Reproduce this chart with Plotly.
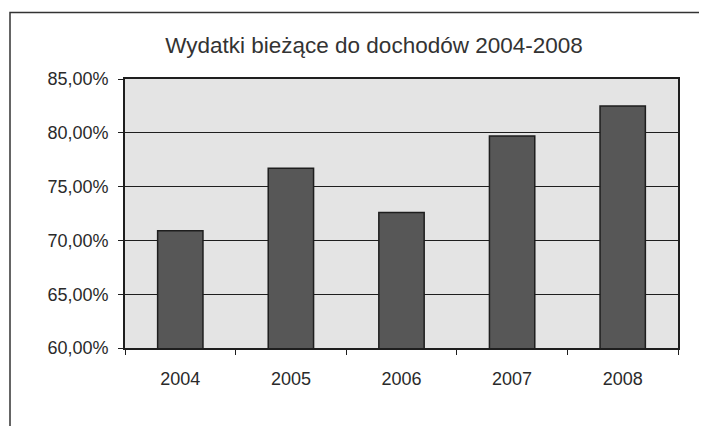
import plotly.graph_objects as go

# data
years = ["2004", "2005", "2006", "2007", "2008"]
ratio = [0.709, 0.767, 0.726, 0.797, 0.825]

# page body has an 8px margin, so the figure is drawn smaller and offset
OFF = 8
W, H = 707 - 2 * OFF, 426 - OFF
L, T = 125 - OFF, 79 - OFF
R = W - (678 - OFF)
B = H - (348 - OFF)
pw, ph = W - L - R, H - T - B


def px(x):
    # reference pixel x -> paper coordinate
    return (x - OFF - L) / pw


def py(y):
    # reference pixel y -> paper coordinate
    return (H - B - (y - OFF)) / ph


fig = go.Figure(
    go.Bar(
        x=years,
        y=ratio,
        marker=dict(color="#575757", line=dict(color="#1e1e1e", width=1.5)),
        showlegend=False,
    )
)

fig.update_layout(
    width=W,
    height=H,
    margin=dict(l=L, r=R, t=T, b=B),
    paper_bgcolor="#ffffff",
    plot_bgcolor="#e4e4e4",
    separators=", ",
    bargap=0.59,
    font=dict(family="Liberation Sans, Arial, sans-serif", size=18, color="#2a2a2a"),
    title=dict(
        text="Wydatki bieżące do dochodów 2004-2008",
        font=dict(size=22.5, color="#333333"),
        x=px(374),
        xref="paper",
        xanchor="center",
        y=1 - (45.5 - OFF) / H,
        yanchor="middle",
    ),
    shapes=[
        # outer chart border (cut off at right and bottom)
        dict(
            type="rect",
            xref="paper",
            yref="paper",
            x0=px(10),
            x1=px(760),
            y0=py(480),
            y1=py(12.5),
            line=dict(color="#333333", width=1.5),
            layer="below",
        )
    ],
)

fig.update_xaxes(
    type="category",
    showline=True,
    linecolor="#1e1e1e",
    linewidth=1.5,
    mirror=True,
    ticks="outside",
    tickson="boundaries",
    ticklen=5,
    tickcolor="#1e1e1e",
    ticklabelstandoff=14,
    showgrid=False,
)
fig.update_yaxes(
    range=[0.60, 0.85],
    dtick=0.05,
    tickformat=".2%",
    showline=True,
    linecolor="#1e1e1e",
    linewidth=1.5,
    mirror=True,
    ticks="outside",
    ticklen=5,
    tickcolor="#1e1e1e",
    ticklabelstandoff=6,
    showgrid=True,
    gridcolor="#1e1e1e",
    gridwidth=1.2,
    zeroline=False,
)

fig.write_html("out.html")
